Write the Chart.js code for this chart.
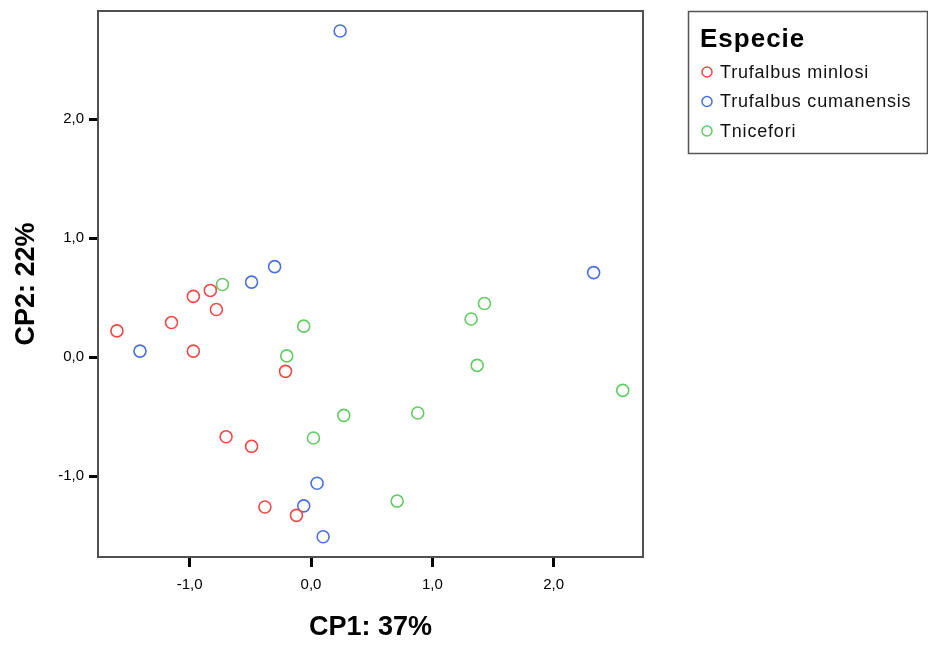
<!DOCTYPE html>
<html>
<head>
<meta charset="utf-8">
<script src="https://cdn.jsdelivr.net/npm/chart.js@4.4.1/dist/chart.umd.min.js"></script>
<style>
  html, body { margin: 0; padding: 0; background: #fff; }
  #wrap { width: 928px; height: 646px; position: relative; }
</style>
</head>
<body>
<div id="wrap"><canvas id="pca"></canvas></div>
<script>
// Scores on the first two principal components
const speciesNames = ["Trufalbus minlosi", "Trufalbus cumanensis", "Tnicefori"];
const speciesColors = ["#f04848", "#4a70dc", "#62cc62"];

const minlosiCP1 = [-1.60, -1.15, -0.97, -0.83, -0.78, -0.97, -0.21, -0.70, -0.49, -0.38, -0.12];
const minlosiCP2 = [0.22, 0.29, 0.51, 0.56, 0.40, 0.05, -0.12, -0.67, -0.75, -1.26, -1.33];

const cumanensisCP1 = [0.24, -0.49, -0.30, -1.41, 0.05, -0.06, 0.10, 2.33];
const cumanensisCP2 = [2.74, 0.63, 0.76, 0.05, -1.06, -1.25, -1.51, 0.71];

const niceforiCP1 = [-0.73, -0.06, -0.20, 0.02, 0.27, 0.88, 0.71, 1.37, 2.57, 1.32, 1.43];
const niceforiCP2 = [0.61, 0.26, 0.01, -0.68, -0.49, -0.47, -1.21, -0.07, -0.28, 0.32, 0.45];

const axisTicks = [-1, 0, 1, 2];

function toPoints(xs, ys) {
    return xs.map((x, i) => ({ x: x, y: ys[i] }));
}

function fmt(v) {
    return v.toFixed(1).replace(".", ",");
}

const seriesX = [minlosiCP1, cumanensisCP1, niceforiCP1];
const seriesY = [minlosiCP2, cumanensisCP2, niceforiCP2];

const datasets = speciesNames.map((name, i) => ({
    label: name,
    data: toPoints(seriesX[i], seriesY[i]),
    pointStyle: "circle",
    pointRadius: 6,
    pointHoverRadius: 6,
    pointBorderWidth: 1.6,
    borderColor: speciesColors[i],
    backgroundColor: "rgba(0,0,0,0)",
    showLine: false
}));

// frame round the plot area
const framePlugin = {
    id: "frame",
    afterDraw(chart) {
        const a = chart.chartArea;
        const ctx = chart.ctx;
        ctx.save();
        ctx.strokeStyle = "#505050";
        ctx.lineWidth = 2;
        ctx.strokeRect(a.left, a.top, a.right - a.left, a.bottom - a.top);
        ctx.restore();
    }
};

// boxed legend at the top right, like the original
const legendBoxPlugin = {
    id: "legendBox",
    afterDraw(chart) {
        const ctx = chart.ctx;
        const left = 688, top = 11, right = 927, bottom = 153;
        ctx.save();
        ctx.strokeStyle = "#555";
        ctx.lineWidth = 1.5;
        ctx.strokeRect(left + 0.5, top + 0.5, right - left, bottom - top);

        ctx.fillStyle = "#000";
        ctx.textBaseline = "alphabetic";
        ctx.font = "bold 26px 'Liberation Sans', Arial, sans-serif";
        ctx.letterSpacing = "1px";
        ctx.fillText("Especie", 700, 47);

        ctx.font = "18px 'Liberation Sans', Arial, sans-serif";
        ctx.letterSpacing = "0.8px";
        ctx.textBaseline = "middle";
        chart.data.datasets.forEach((ds, i) => {
            const cy = 72 + i * 29.5;
            ctx.beginPath();
            ctx.strokeStyle = ds.borderColor;
            ctx.lineWidth = 1.5;
            ctx.arc(707, cy, 5, 0, Math.PI * 2);
            ctx.stroke();
            ctx.fillStyle = "#111";
            ctx.fillText(ds.label, 720, cy + 1);
        });
        ctx.restore();
    }
};

const ctx = document.getElementById("pca").getContext("2d");
new Chart(ctx, {
    type: "scatter",
    data: { datasets: datasets },
    options: {
        responsive: true,
        maintainAspectRatio: false,
        animation: false,
        layout: { padding: { top: 11, right: 285, left: 0, bottom: 0 } },
        plugins: {
            legend: { display: false },
            tooltip: { enabled: false }
        },
        scales: {
            x: {
                type: "linear",
                min: -1.756,
                max: 2.737,
                afterBuildTicks(scale) {
                    scale.ticks = axisTicks.map(v => ({ value: v }));
                },
                afterFit(scale) {
                    scale.height = 89;
                    scale.paddingLeft = 0;
                    scale.paddingRight = 0;
                },
                grid: { drawOnChartArea: false, tickLength: 10, tickWidth: 3, tickColor: "#000" },
                border: { display: false },
                ticks: {
                    padding: 9,
                    color: "#000",
                    font: { size: 15, family: "'Liberation Sans', Arial, sans-serif" },
                    callback: v => fmt(v)
                },
                title: {
                    display: true,
                    text: "CP1: 37%",
                    color: "#000",
                    font: { size: 27, weight: "bold", family: "'Liberation Sans', Arial, sans-serif" },
                    padding: { top: 0, bottom: 2 }
                }
            },
            y: {
                type: "linear",
                min: -1.68,
                max: 2.908,
                afterBuildTicks(scale) {
                    scale.ticks = axisTicks.map(v => ({ value: v }));
                },
                afterFit(scale) {
                    scale.width = 98;
                    scale.paddingTop = 0;
                    scale.paddingBottom = 0;
                },
                grid: { drawOnChartArea: false, tickLength: 9, tickWidth: 3, tickColor: "#000" },
                border: { display: false },
                ticks: {
                    padding: 5,
                    color: "#000",
                    font: { size: 15, family: "'Liberation Sans', Arial, sans-serif" },
                    callback: v => fmt(v)
                },
                title: {
                    display: true,
                    text: "CP2: 22%",
                    color: "#000",
                    font: { size: 27, weight: "bold", family: "'Liberation Sans', Arial, sans-serif" },
                    padding: { top: 10, bottom: 0 }
                }
            }
        }
    },
    plugins: [framePlugin, legendBoxPlugin]
});
</script>
</body>
</html>
